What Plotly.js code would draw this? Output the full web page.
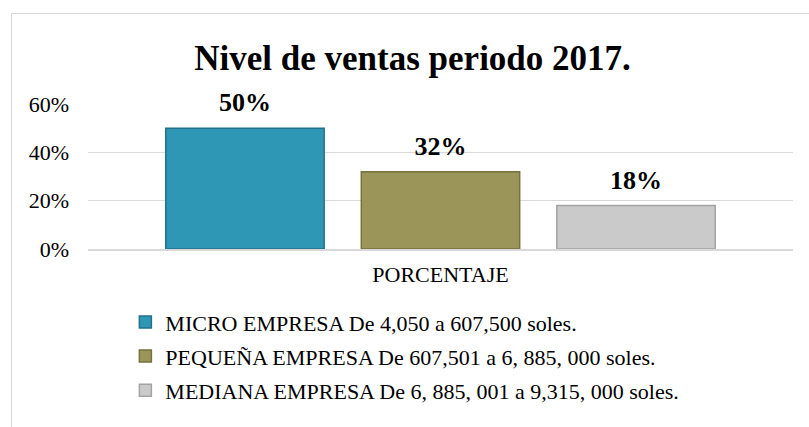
<!DOCTYPE html>
<html>
<head>
<meta charset="utf-8">
<script src="https://cdn.plot.ly/plotly-3.0.1.min.js"></script>
<style>
  html, body { margin: 0; padding: 0; background: #ffffff; }
  #chart { position: absolute; left: 0; top: 0; width: 809px; height: 427px; }
  #frame { position: absolute; left: 11px; top: 13px; width: 820px; height: 440px;
           border: 1px solid #d9d9d9; pointer-events: none; }
</style>
</head>
<body>
<div id="chart"></div>
<div id="frame"></div>
<script>
// Data
const categories = ["PORCENTAJE"];
const seriesNames = [
  "MICRO EMPRESA De 4,050 a 607,500 soles.",
  "PEQUEÑA EMPRESA De 607,501 a 6, 885, 000 soles.",
  "MEDIANA EMPRESA De 6, 885, 001 a 9,315, 000 soles."
];
const microValues = [0.50];
const pequenaValues = [0.32];
const medianaValues = [0.18];
const yTickValues = [0, 0.2, 0.4, 0.6];
const yTickLabels = ["0%", "20%", "40%", "60%"];

const serif = "Liberation Serif";
const fills = ["#2f97b6", "#9b955a", "#cacaca"];
const edges = ["#22718a", "#77723f", "#a3a3a3"];
const seriesValues = [microValues, pequenaValues, medianaValues];

const barTraces = seriesValues.map((vals, i) => ({
  type: "bar",
  name: seriesNames[i],
  x: categories,
  y: vals,
  legendgroup: "g" + i,
  marker: { color: fills[i], line: { color: edges[i], width: 1.5 } },
  hoverinfo: "skip"
}));

// value labels, positioned by the library's group layout
const labelTraces = seriesValues.map((vals, i) => ({
  type: "scatter",
  mode: "markers+text",
  orientation: "v",
  x: categories,
  y: vals,
  showlegend: false,
  legendgroup: "g" + i,
  marker: { size: 15, color: "rgba(0,0,0,0)" },
  text: vals.map(v => "<b>" + Math.round(v * 100) + "%</b>"),
  textposition: "top center",
  textfont: { family: serif, size: 26, color: "#000000" },
  cliponaxis: false,
  hoverinfo: "skip"
}));

const layout = {
  width: 809,
  height: 427,
  margin: { l: 88, r: 16, t: 104, b: 178 },
  paper_bgcolor: "#ffffff",
  plot_bgcolor: "#ffffff",
  barmode: "group",
  bargap: 0.168,
  bargroupgap: 0.19,
  scattermode: "group",
  scattergap: 0.168,
  showlegend: true,
  font: { family: serif, color: "#000000" },
  title: {
    text: "<b>Nivel de ventas periodo 2017.</b>",
    font: { family: serif, size: 35, color: "#000000" },
    x: 0.51, xref: "container", xanchor: "center",
    y: 0.865, yref: "container", yanchor: "middle"
  },
  xaxis: {
    type: "category",
    showgrid: false,
    showline: true,
    linecolor: "#d9d9d9",
    linewidth: 2,
    ticks: "",
    ticklabelstandoff: 5,
    tickfont: { family: serif, size: 22, color: "#000000" }
  },
  yaxis: {
    range: [0, 0.6],
    tickvals: yTickValues,
    ticktext: yTickLabels,
    showgrid: true,
    gridcolor: "#d9d9d9",
    gridwidth: 1,
    zeroline: false,
    showline: false,
    ticks: "",
    ticklabelstandoff: 18,
    tickfont: { family: serif, size: 22, color: "#000000" }
  },
  legend: {
    orientation: "v",
    x: 0.053, xanchor: "left",
    y: -0.36, yanchor: "top",
    traceorder: "grouped",
    tracegroupgap: 2.5,
    font: { family: serif, size: 22, color: "#000000" },
    bgcolor: "rgba(0,0,0,0)"
  },
  hovermode: false
};

Plotly.newPlot("chart", barTraces.concat(labelTraces), layout, { displayModeBar: false, staticPlot: true });
</script>
</body>
</html>
